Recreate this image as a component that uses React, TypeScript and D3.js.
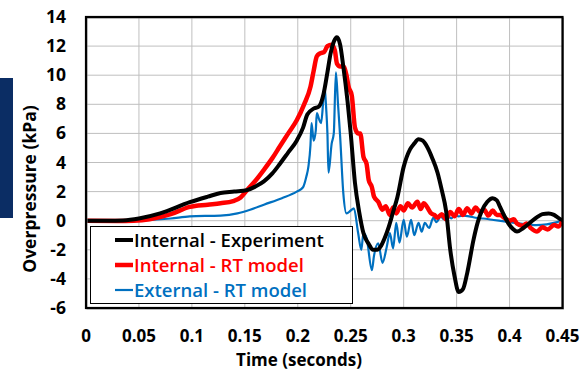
import React from "react";
import * as d3 from "d3";

const xTicks = [0, 0.05, 0.1, 0.15, 0.2, 0.25, 0.3, 0.35, 0.4, 0.45];
const yTicks = [-6, -4, -2, 0, 2, 4, 6, 8, 10, 12, 14];
const seriesNames = ["Internal - Experiment", "Internal - RT model", "External - RT model"];
const seriesColors = ["#000000", "#FF0000", "#0070C0"];

const expT = [0, 0.02, 0.035, 0.05, 0.07, 0.098, 0.115, 0.127, 0.14, 0.152, 0.16, 0.168, 0.176, 0.183, 0.191, 0.199, 0.205, 0.209, 0.215, 0.22, 0.224, 0.228, 0.231, 0.234, 0.237, 0.24, 0.243, 0.247, 0.25, 0.254, 0.258, 0.262, 0.267, 0.271, 0.275, 0.278, 0.282, 0.286, 0.29, 0.294, 0.3, 0.306, 0.31, 0.314, 0.318, 0.322, 0.327, 0.332, 0.336, 0.34, 0.344, 0.348, 0.352, 0.356, 0.36, 0.366, 0.37, 0.374, 0.379, 0.384, 0.388, 0.391, 0.395, 0.399, 0.403, 0.407, 0.413, 0.42, 0.426, 0.431, 0.437, 0.442, 0.448, 0.45];
const expV = [0, 0, 0.02, 0.15, 0.5, 1.27, 1.65, 1.9, 2.0, 2.1, 2.35, 2.7, 3.25, 3.9, 4.7, 5.5, 6.4, 7.3, 7.7, 7.85, 8.6, 10.2, 11.5, 12.3, 12.6, 12.1, 10.6, 8.2, 6.0, 2.6, 0.6, -0.85, -1.6, -2.0, -2.0, -1.8, -1.2, -0.4, 0.6, 1.6, 3.7, 4.9, 5.3, 5.6, 5.5, 5.1, 4.3, 3.3, 2.1, 0.7, -2.0, -3.8, -4.9, -4.7, -3.6, -1.3, -0.1, 0.7, 1.3, 1.55, 1.4, 0.95, 0.35, -0.2, -0.55, -0.75, -0.5, -0.1, 0.25, 0.45, 0.5, 0.4, 0.1, 0.05];

const intT = [0, 0.03, 0.045, 0.06, 0.08, 0.098, 0.115, 0.127, 0.139, 0.146, 0.152, 0.16, 0.168, 0.176, 0.183, 0.191, 0.199, 0.206, 0.212, 0.215, 0.218, 0.221, 0.225, 0.228, 0.232, 0.235, 0.237, 0.24, 0.243, 0.246, 0.248, 0.251, 0.254, 0.257, 0.259, 0.262, 0.265, 0.267, 0.27, 0.272, 0.276, 0.28, 0.283, 0.287, 0.29, 0.293, 0.297, 0.3, 0.304, 0.308, 0.313, 0.316, 0.319, 0.322, 0.326, 0.329, 0.332, 0.336, 0.34, 0.344, 0.348, 0.352, 0.356, 0.36, 0.364, 0.368, 0.372, 0.376, 0.38, 0.384, 0.388, 0.391, 0.395, 0.4, 0.404, 0.407, 0.412, 0.416, 0.42, 0.426, 0.431, 0.436, 0.442, 0.446, 0.45];
const intV = [0, -0.02, 0.0, 0.1, 0.45, 0.95, 1.1, 1.2, 1.35, 1.6, 2.1, 2.75, 3.5, 4.3, 5.1, 6.0, 6.9, 8.0, 9.2, 10.3, 11.3, 11.5, 11.6, 12.0, 12.1, 11.7, 10.8, 10.6, 10.6, 10.0, 9.2, 8.6, 6.4, 6.0, 6.0, 4.4, 3.9, 2.8, 2.3, 1.65, 1.3, 0.75, 1.0, 0.4, 0.9, 0.5, 1.0, 0.7, 1.2, 0.9, 1.3, 0.8, 1.2, 0.95, 0.5, 0.4, 0.2, 0.45, 0.1, 0.6, 0.3, 0.8, 0.4, 0.85, 0.5, 0.9, 0.6, 0.75, 0.35, 0.7, 0.4, 0.4, 0.2, 0.0, 0.1, -0.2, -0.35, -0.2, -0.5, -0.75, -0.45, -0.6, -0.3, -0.4, 0];

const extT = [0, 0.04, 0.06, 0.08, 0.098, 0.127, 0.143, 0.155, 0.168, 0.185, 0.199, 0.205, 0.208, 0.21, 0.212, 0.213, 0.215, 0.217, 0.218, 0.22, 0.222, 0.224, 0.225, 0.227, 0.228, 0.229, 0.232, 0.234, 0.236, 0.238, 0.24, 0.243, 0.246, 0.25, 0.253, 0.257, 0.26, 0.262, 0.265, 0.27, 0.272, 0.276, 0.28, 0.284, 0.287, 0.29, 0.293, 0.296, 0.3, 0.303, 0.307, 0.31, 0.314, 0.317, 0.32, 0.324, 0.328, 0.331, 0.335, 0.338, 0.341, 0.345, 0.348, 0.352, 0.356, 0.362, 0.368, 0.375, 0.385, 0.395, 0.405, 0.415, 0.425, 0.435, 0.445, 0.45];
const extV = [0, 0, 0.05, 0.15, 0.3, 0.35, 0.5, 0.75, 1.1, 1.55, 2.0, 2.3, 3.0, 3.7, 5.2, 6.7, 5.5, 6.2, 7.4, 7.0, 6.7, 8.2, 9.2, 7.5, 6.0, 3.3, 5.3, 6.0, 10.2, 8.0, 5.8, 1.9, 0.5, 0.7, 0.85, -0.85, -2.0, -0.85, -1.2, -3.4, -2.4, -1.55, -2.9, -1.8, -0.85, -1.9, -0.15, -1.5, 0.05, -1.1, 0.05, -1.0, -0.15, -0.75, -0.15, -0.5, 0.2, -0.1, 0.3, 0.1, 0.35, 0.15, 0.4, 0.3, 0.35, 0.3, 0.2, 0.15, 0.05, -0.05, -0.15, -0.25, -0.3, -0.25, -0.1, 0.05];

const W = 585;
const H = 371;
const M = { left: 86, top: 17, right: 562.5, bottom: 308 };

export default function App() {
  const x = d3.scaleLinear().domain([0, 0.45]).range([M.left, M.right]);
  const y = d3.scaleLinear().domain([-6, 14]).range([M.bottom, M.top]);
  const line = d3
    .line<[number, number]>()
    .x((d) => x(d[0]))
    .y((d) => y(d[1]))
    .curve(d3.curveMonotoneX);

  const series = [
    { t: extT, v: extV, color: seriesColors[2], w: 2.2 },
    { t: intT, v: intV, color: seriesColors[1], w: 4.5 },
    { t: expT, v: expV, color: seriesColors[0], w: 4 },
  ];

  const font = "'Open Sans', sans-serif";
  const legendY = [240, 265, 290];
  const legendW = [4, 4.5, 2.2];

  return (
    <svg width={W} height={H} style={{ position: "absolute", left: 0, top: 0, background: "#fff" }}>
      <rect x={0} y={78} width={13} height={140} fill="#0B2D64" />
      <defs>
        <clipPath id="plotclip">
          <rect x={M.left} y={M.top} width={M.right - M.left} height={M.bottom - M.top} />
        </clipPath>
      </defs>
      {xTicks.map((t) => (
        <line key={"gx" + t} x1={x(t)} x2={x(t)} y1={M.top} y2={M.bottom} stroke="#BFBFBF" strokeWidth={1} />
      ))}
      {yTicks.map((t) => (
        <line key={"gy" + t} x1={M.left} x2={M.right} y1={y(t)} y2={y(t)} stroke="#BFBFBF" strokeWidth={1} />
      ))}
      <g clipPath="url(#plotclip)">
        {series.map((s, i) => (
          <path
            key={i}
            d={line(s.t.map((t, j) => [t, s.v[j]] as [number, number])) || ""}
            fill="none"
            stroke={s.color}
            strokeWidth={s.w}
            strokeLinejoin="round"
          />
        ))}
      </g>
      <rect x={M.left + 1} y={M.top + 1} width={M.right - M.left} height={M.bottom - M.top} fill="none" stroke="#999" strokeWidth={1} />
      <rect x={M.left} y={M.top} width={M.right - M.left} height={M.bottom - M.top} fill="none" stroke="#000" strokeWidth={2.2} />
      <rect x={90.5} y={226.5} width={262} height={77} fill="#fff" stroke="#000" strokeWidth={1} />
      {seriesNames.map((n, i) => (
        <g key={n}>
          <line x1={115} x2={133} y1={legendY[i]} y2={legendY[i]} stroke={seriesColors[i]} strokeWidth={legendW[i]} />
          <text x={134} y={legendY[i] + 6.5} fontFamily={font} fontSize={18.5} fontWeight={600} fill={seriesColors[i]}>
            {n}
          </text>
        </g>
      ))}
      {yTicks.map((t) => (
        <text key={"ty" + t} x={66} y={y(t) + 6} textAnchor="end" fontFamily={font} fontWeight="bold" fontSize={17.5}>
          {t}
        </text>
      ))}
      {xTicks.map((t) => (
        <text key={"tx" + t} x={x(t)} y={342} textAnchor="middle" fontFamily={font} fontWeight="bold" fontSize={17}>
          {t}
        </text>
      ))}
      <text x={299} y={366} textAnchor="middle" fontFamily={font} fontWeight="bold" fontSize={17}>
        Time (seconds)
      </text>
      <text
        transform={`translate(36,189) rotate(-90)`}
        textAnchor="middle"
        fontFamily={font}
        fontWeight="bold"
        fontSize={17.5}
      >
        Overpressure (kPa)
      </text>
    </svg>
  );
}
